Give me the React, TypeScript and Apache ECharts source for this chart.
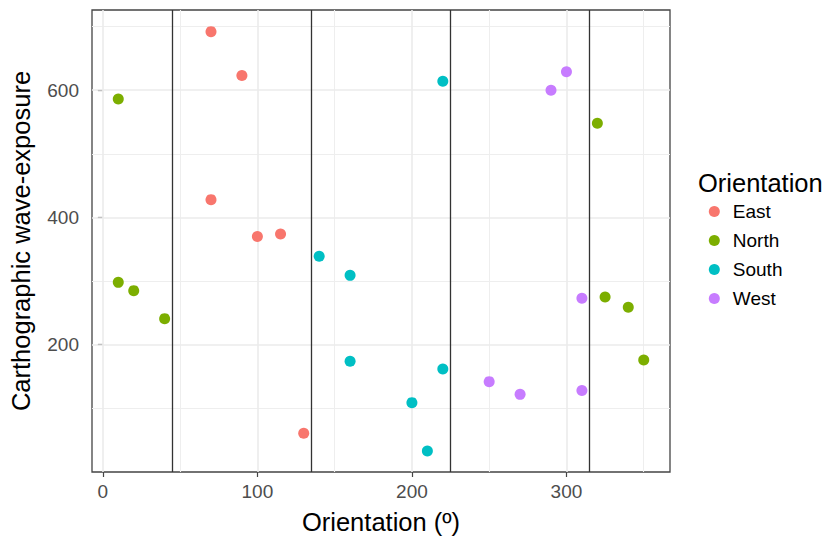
import React, { useEffect, useRef } from 'react';
import * as echarts from 'echarts';

const eastX = [70, 90, 70, 100, 115, 130];
const eastY = [692, 623, 428, 370, 374, 61];
const northX = [10, 10, 20, 40, 320, 325, 340, 350];
const northY = [586, 298, 285, 241, 548, 275, 259, 176];
const southX = [140, 160, 160, 200, 210, 220, 220];
const southY = [339, 309, 174, 109, 33, 162, 614];
const westX = [250, 270, 310, 310, 290, 300];
const westY = [142, 122, 128, 273, 600, 629];

const groups = ['East', 'North', 'South', 'West'];
const colors = ['#F8766D', '#7CAE00', '#00BFC4', '#C77CFF'];

const sectorBounds = [45, 135, 225, 315];
const xMajor = [0, 100, 200, 300];
const xMinor = [50, 150, 250, 350];
const yMajor = [200, 400, 600];
const yMinor = [100, 300, 500, 700];

const FONT = 'Liberation Sans, Arial, Helvetica, sans-serif';

const zip = (xs: number[], ys: number[]) => xs.map((x, i) => [x, ys[i]]);

const lineSeries = (name: string, xs: number[], ys: number[], color: string, width: number, z: number) => ({
  name,
  type: 'scatter',
  data: [],
  z,
  silent: true,
  markLine: {
    silent: true,
    z,
    symbol: ['none', 'none'],
    label: { show: false },
    emphasis: { disabled: true },
    lineStyle: { color, width, type: 'solid', opacity: 1 },
    data: [...xs.map((v) => ({ xAxis: v })), ...ys.map((v) => ({ yAxis: v }))],
  },
});

export default function App() {
  const ref = useRef<HTMLDivElement>(null);
  useEffect(() => {
    const chart = echarts.init(ref.current!, null, { renderer: 'svg' });
    const pts = [zip(eastX, eastY), zip(northX, northY), zip(southX, southY), zip(westX, westY)];
    chart.setOption({
      animation: false,
      backgroundColor: '#fff',
      textStyle: { fontFamily: FONT },
      grid: {
        left: 92,
        right: 153,
        top: 10,
        bottom: 68,
        show: true,
        borderColor: '#444',
        borderWidth: 1.3,
        backgroundColor: 'transparent',
        outerBoundsMode: 'none',
        containLabel: false,
      },
      xAxis: {
        type: 'value',
        min: -7,
        max: 367,
        axisLine: { show: false },
        axisTick: { show: true, customValues: xMajor, length: 5, lineStyle: { color: '#444', width: 1.2 } },
        axisLabel: { customValues: xMajor, color: '#4D4D4D', fontSize: 19, margin: 10, fontFamily: FONT },
        splitLine: { show: false },
        name: 'Orientation (º)',
        nameLocation: 'middle',
        nameGap: 37,
        nameTextStyle: { fontSize: 25.5, color: '#000', fontFamily: FONT },
      },
      yAxis: {
        type: 'value',
        min: 0,
        max: 726,
        axisLine: { show: false },
        axisTick: { show: true, customValues: yMajor, length: 5, lineStyle: { color: '#444', width: 1.2 } },
        axisLabel: { customValues: yMajor, color: '#4D4D4D', fontSize: 19, margin: 13, fontFamily: FONT },
        splitLine: { show: false },
        name: 'Carthographic wave-exposure',
        nameLocation: 'middle',
        nameGap: 58,
        nameTextStyle: { fontSize: 25.5, color: '#000', fontFamily: FONT },
      },
      legend: {
        data: groups,
        orient: 'vertical',
        left: 708.8,
        top: 202,
        padding: 0,
        itemWidth: 27,
        itemHeight: 11,
        itemGap: 10,
        icon: 'circle',
        selectedMode: false,
        textStyle: { fontSize: 19, lineHeight: 19, color: '#000', fontFamily: FONT },
      },
      graphic: [
        {
          type: 'text',
          x: 698,
          y: 183,
          silent: true,
          style: {
            text: 'Orientation',
            fontSize: 25.5,
            fontFamily: FONT,
            fill: '#000',
            align: 'left',
            verticalAlign: 'middle',
          },
        },
      ],
      series: [
        lineSeries('_minor', xMinor, yMinor, '#EEEEEE', 1.1, 1),
        lineSeries('_major', xMajor, yMajor, '#EBEBEB', 1.6, 2),
        lineSeries('_sectors', sectorBounds, [], '#333', 1.3, 3),
        ...groups.map((g, i) => ({
          name: g,
          type: 'scatter',
          data: pts[i],
          symbol: 'circle',
          symbolSize: 11,
          z: 10,
          itemStyle: { color: colors[i], opacity: 1 },
        })),
      ],
    });
    return () => chart.dispose();
  }, []);
  return (
    <div
      ref={ref}
      style={{ position: 'absolute', left: 0, top: 0, width: 823, height: 540, background: '#fff' }}
    />
  );
}
